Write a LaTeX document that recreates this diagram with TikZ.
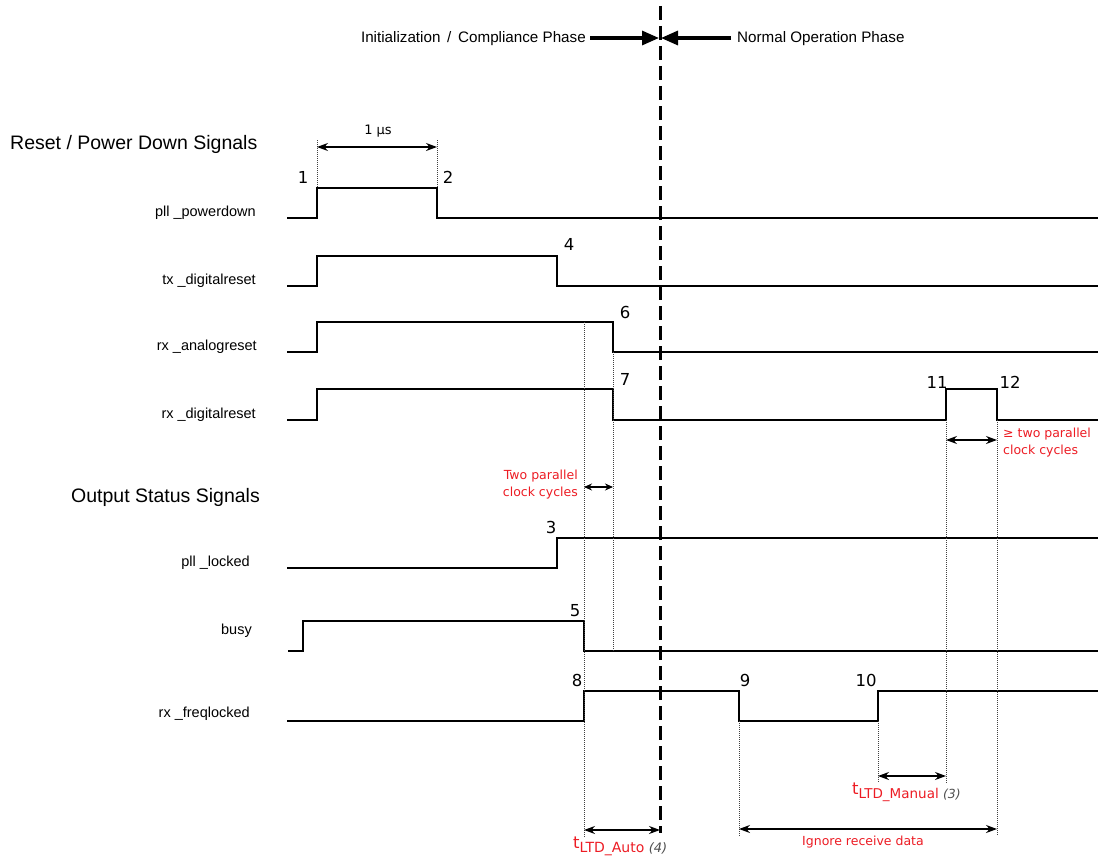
\documentclass[tikz,border=0pt]{standalone}
\usepackage{fontspec}
\setmainfont{Liberation Sans}
\newfontfamily\dvs{DejaVu Sans}
\usetikzlibrary{arrows.meta}
\definecolor{redtxt}{RGB}{237,28,36}
\definecolor{notegray}{RGB}{80,80,80}
\begin{document}
\begin{tikzpicture}[x=1pt,y=-1pt,
  sig/.style={line width=1.4pt, line join=miter},
  guide/.style={line width=0.6pt, dash pattern=on 1pt off 1pt, black!75},
  dim/.style={line width=1.1pt, {Stealth[length=11pt,width=8pt]}-{Stealth[length=11pt,width=8pt]}},
  smalldim/.style={line width=1.1pt, {Stealth[length=8pt,width=7pt]}-{Stealth[length=8pt,width=7pt]}},
  lbl/.style={anchor=east, inner sep=0pt, font=\fontsize{14.5}{16}\selectfont},
  head/.style={anchor=west, inner sep=0pt, font=\fontsize{19.5}{21}\selectfont},
  num/.style={inner sep=0pt, font=\dvs\fontsize{16.5}{18}\selectfont},
  note/.style={inner sep=0pt, text=redtxt, font=\dvs\fontsize{12.5}{17}\selectfont},
  phase/.style={inner sep=0pt, font=\fontsize{15.2}{17}\selectfont}]
\useasboundingbox[fill=white] (0,0) rectangle (1098,859);

% phase boundary
\coordinate (ptop) at (660,6);
\coordinate (pbot) at (660,833);
\draw[line width=3pt, dash pattern=on 14pt off 6pt] (ptop) -- (pbot);
\node[phase, anchor=east] (initph) at (586,39) {Initialization \,/\, Compliance Phase};
\node[phase, anchor=west] (normph) at (737,39) {Normal Operation Phase};
\coordinate (pl) at (659,38);
\coordinate (pr) at (661,38);
\draw[line width=3.2pt, -{Triangle[length=17pt,width=14pt]}] (initph.east) ++(4,-1) coordinate (al) -- (pl);
\draw[line width=3.2pt, -{Triangle[length=17pt,width=14pt]}] (normph.west) ++(-6,-1) coordinate (ar) -- (pr);

% headings
\node[head] (hreset) at (10,144) {Reset / Power Down Signals};
\node[head] (hout) at (71,497) {Output Status Signals};

% signal labels
\node[lbl] (lpd) at (256,213) {pll \_powerdown};
\node[lbl] (ltx) at (256,281) {tx \_digitalreset};
\node[lbl] (lra) at (257,347) {rx \_analogreset};
\node[lbl] (lrd) at (256,415) {rx \_digitalreset};
\node[lbl] (lpl) at (250,563) {pll \_locked};
\node[lbl] (lbusy) at (252,631) {busy};
\node[lbl] (lfl) at (250,714) {rx \_freqlocked};

% waveforms
\draw[sig] (287,218) -- (317,218) -- (317,188) -- (437,188) -- (437,218) -- (1098,218);
\draw[sig] (287,286) -- (317,286) -- (317,256) -- (557,256) -- (557,286) -- (1098,286);
\draw[sig] (287,352) -- (317,352) -- (317,322) -- (613,322) -- (613,352) -- (1098,352);
\draw[sig] (287,420) -- (317,420) -- (317,389) -- (613,389) -- (613,420) -- (946,420) -- (946,389) -- (997,389) -- (997,420) -- (1098,420);
\draw[sig] (287,568) -- (557,568) -- (557,538) -- (1098,538);
\draw[sig] (288,651) -- (303,651) -- (303,621) -- (584,621) -- (584,651) -- (1098,651);
\draw[sig] (287,721) -- (584,721) -- (584,691) -- (739,691) -- (739,721) -- (878,721) -- (878,691) -- (1098,691);

% event numbers
\node[num] (n1) at (303,177) {1};
\node[num] (n2) at (448,177) {2};
\node[num] (n4) at (569,244) {4};
\node[num] (n6) at (625,312) {6};
\node[num] (n7) at (625,379) {7};
\node[num] (n11) at (937,382) {11};
\node[num] (n12) at (1010,382) {12};
\node[num] (n3) at (551,527) {3};
\node[num] (n5) at (575,611) {5};
\node[num] (n8) at (577,680) {8};
\node[num] (n9) at (745,680) {9};
\node[num] (n10) at (866,680) {10};

% guide lines
\coordinate (g1a) at (317,140); \coordinate (g1b) at (317,188);
\coordinate (g2a) at (437,140); \coordinate (g2b) at (437,188);
\coordinate (g3a) at (584,322); \coordinate (g3b) at (584,838);
\coordinate (g4a) at (613,352); \coordinate (g4b) at (613,651);
\coordinate (g5a) at (946,420); \coordinate (g5b) at (946,783);
\coordinate (g6a) at (997,420); \coordinate (g6b) at (997,836);
\coordinate (g7a) at (878,721); \coordinate (g7b) at (878,783);
\coordinate (g8a) at (739,721); \coordinate (g8b) at (739,837);
\foreach \g in {1,...,8} \draw[guide] (g\g a) -- (g\g b);

% dimensions
\coordinate (d1a) at (317,147); \coordinate (d1b) at (437,147);
\draw[dim] (d1a) -- (d1b);
\node[inner sep=0pt, font=\dvs\fontsize{13}{15}\selectfont] (us) at (378,131) {1 μs};

\coordinate (d2a) at (584,487); \coordinate (d2b) at (613,487);
\draw[smalldim] (d2a) -- (d2b);
\node[note, anchor=east, align=right] (twopc) at (578,485) {Two parallel\\clock cycles};

\coordinate (d3a) at (946,440); \coordinate (d3b) at (997,440);
\draw[dim] (d3a) -- (d3b);
\node[note, anchor=west, align=left] (ge2) at (1003,443) {≥ two parallel\\clock cycles};

\coordinate (d4a) at (878,776); \coordinate (d4b) at (946,776);
\draw[dim] (d4a) -- (d4b);
\node[anchor=base west, inner sep=0pt] (tman) at (852,794) {\dvs\color{redtxt}\fontsize{16.5}{18}\selectfont t\raisebox{-4.5pt}{\fontsize{13.5}{15}\selectfont LTD\_Manual\ {\color{notegray}\itshape\fontsize{12.5}{14}\selectfont (3)}}};

\coordinate (d5a) at (739,829); \coordinate (d5b) at (997,829);
\draw[dim] (d5a) -- (d5b);
\node[note] (ign) at (863,842) {Ignore receive data};

\coordinate (d6a) at (584,830); \coordinate (d6b) at (660,830);
\draw[dim] (d6a) -- (d6b);
\node[anchor=base west, inner sep=0pt] (tauto) at (573,848) {\dvs\color{redtxt}\fontsize{16.5}{18}\selectfont t\raisebox{-4.5pt}{\fontsize{14}{15}\selectfont LTD\_Auto\ {\color{notegray}\itshape\fontsize{13}{14}\selectfont (4)}}};
\end{tikzpicture}
\end{document}
